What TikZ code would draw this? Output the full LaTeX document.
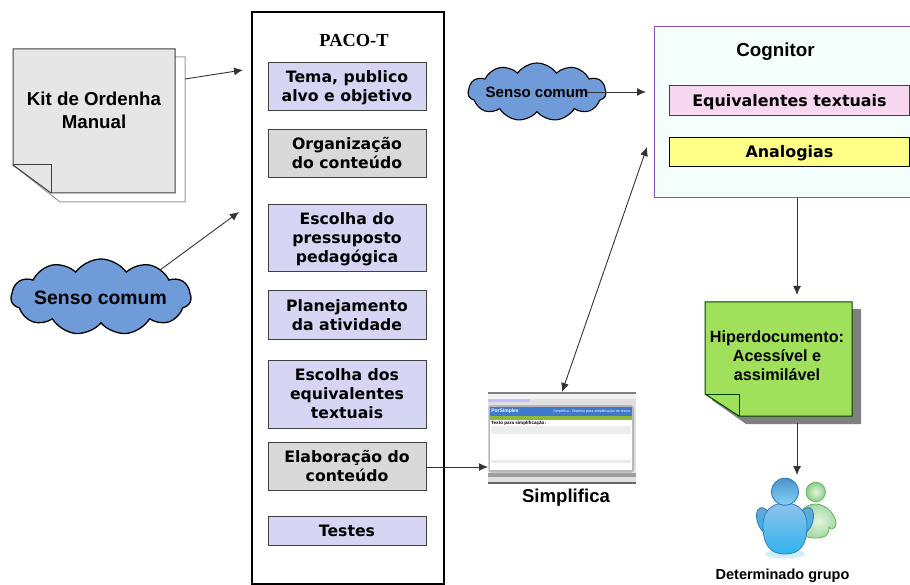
\documentclass[tikz,border=0pt]{standalone}
\usepackage{fontspec}
\setmainfont{Liberation Sans}
\newfontfamily\dv{DejaVu Sans}
\newfontfamily\ser{Liberation Serif}
\usetikzlibrary{shapes.symbols,arrows.meta,calc}
\definecolor{lav}{HTML}{D6D6F4}
\definecolor{gr}{HTML}{D9D9D9}
\definecolor{cloudb}{HTML}{6F9BD8}
\definecolor{docg}{HTML}{E6E6E6}
\definecolor{green1}{HTML}{A0E05A}
\definecolor{cogn}{HTML}{F4FFFB}
\definecolor{purp}{HTML}{8A50B8}
\definecolor{pink}{HTML}{F8D8F0}
\definecolor{yel}{HTML}{FFFF88}
\definecolor{uA}{HTML}{8FC3EA}
\definecolor{uB}{HTML}{2FB4EE}
\definecolor{uE}{HTML}{2F7FC0}
\definecolor{gA}{HTML}{E4F5DC}
\definecolor{gE}{HTML}{5DB85A}
\definecolor{sblue}{HTML}{3F78CC}
\definecolor{sgreen}{HTML}{8DB83A}
\tikzset{
 x=1pt,y=-1pt,
 conn/.style={-{Latex[length=9pt,width=8pt]},line width=0.9pt,draw=black!80},
 conn2/.style={{Latex[length=9pt,width=8pt]}-{Latex[length=9pt,width=8pt]},line width=0.9pt,draw=black!80},
 stepbox/.style={draw=black!75,line width=0.9pt,minimum width=158pt,align=center,inner sep=0pt,text depth=0pt,font=\dv\bfseries\fontsize{15.7}{19}\selectfont},
 barbox/.style={line width=0.9pt,minimum width=240pt,inner sep=0pt,anchor=north west,text depth=0pt,font=\dv\bfseries\fontsize{15.9}{18}\selectfont},
 puff/.style={cloud,cloud puffs=11,cloud puff arc=110,aspect=3.2,draw=black,line width=1.3pt,fill=cloudb,inner sep=0pt,align=center},
}
\newcommand{\stepat}[5]{\node[stepbox,fill=#4,minimum height=#3pt] (#1) at (347,#2) {#5};}
\begin{document}
\begin{tikzpicture}
\useasboundingbox (0,0) rectangle (910,585);
% Kit document
\draw[black!40,line width=1pt] (175,57) -- (185,57) -- (185,202) -- (60,202) -- (13,165);
\draw[black!75,fill=docg,line width=1pt] (13,49) -- (175,49) -- (175,193) -- (51,193) -- (13,165) -- cycle;
\draw[black!75,line width=1pt] (13,165) -- (51,165) -- (51,193);
\node[align=center,font=\bfseries\fontsize{18.7}{23}\selectfont] (kit) at (94,110) {Kit de Ordenha\\Manual};
\coordinate (kitout) at (185,79);
\coordinate (kitin) at (243,70);
\draw[conn] (kitout) -- (kitin);
% Cloud left
\node[puff,minimum width=180pt,minimum height=76pt] (c1) at (101,297) {};
\node[font=\bfseries\fontsize{19.4}{22}\selectfont] (c1t) at (100.5,298) {Senso comum};
\coordinate (c1out) at (160,270);
\coordinate (c1in) at (239,212);
\draw[conn] (c1out) -- (c1in);
% PACO-T panel
\node[draw=black,line width=1.6pt,minimum width=192pt,minimum height=572pt,inner sep=0pt] (panel) at (348,298) {};
\node[font=\ser\bfseries\fontsize{18.4}{20}\selectfont] (paco) at (354,41) {PACO-T};
\stepat{s1}{86}{48}{lav}{Tema, publico\\alvo e objetivo}
\stepat{s2}{153}{48}{gr}{Organização\\do conteúdo}
\stepat{s3}{237.5}{67}{lav}{Escolha do\\pressuposto\\pedagógica}
\stepat{s4}{315}{49}{lav}{Planejamento\\da atividade}
\stepat{s5}{394}{68}{lav}{Escolha dos\\equivalentes\\textuais}
\stepat{s6}{466}{48}{gr}{Elaboração do\\conteúdo}
\stepat{s7}{531}{29}{lav}{Testes}
% Cognitor
\node[draw=purp,fill=cogn,line width=0.9pt,minimum width=262pt,minimum height=171pt,inner sep=0pt,anchor=north west] (cog) at (654,26) {};
\node[font=\bfseries\fontsize{18.8}{20}\selectfont] (cogt) at (775.5,52) {Cognitor};
\node[barbox,draw=black!75,fill=pink,minimum height=30pt] (eq) at (669,85) {Equivalentes textuais};
\node[barbox,draw=black,fill=yel,minimum height=29pt] (an) at (669,137) {Analogias};
% Cloud top
\node[puff,minimum width=138pt,minimum height=58pt,line width=1.1pt] (c2) at (537,92) {};
\node[font=\bfseries\fontsize{15}{18}\selectfont] (c2t) at (537,92) {Senso comum};
\coordinate (c2out) at (587,92);
\coordinate (cogin) at (646,92);
\draw[conn] (c2out) -- (cogin);
% Screenshot
\fill[black!12] (488,392) rectangle (636,484);
\fill[black!50] (488,392) rectangle (636,394);
\fill[black!5] (488,394) rectangle (636,399);
\fill[blue!25] (488,399) rectangle (530,402);
\fill[black!28,rounded corners=3pt] (488.5,405) rectangle (634,472.5);
\fill[white] (490,407) rectangle (632,470);
\fill[sblue] (490,407) rectangle (632,415.5);
\fill[sgreen] (490,416) rectangle (632,419.5);
\fill[black!7] (491,425.5) rectangle (631,434);
\fill[black!8] (491,460) rectangle (631,463);
\fill[black!38] (488,473) rectangle (636,477);
\fill[black!60] (488,481.5) rectangle (636,484);
\node[font=\bfseries\fontsize{5}{5}\selectfont,white,inner sep=0pt] (ps) at (505,411.5) {PorSimples};
\node[font=\fontsize{3.6}{4}\selectfont,white,inner sep=0pt] (ps2) at (592,411.5) {Simplifica - Sistema para simplificação de textos};
\node[font=\bfseries\fontsize{4.6}{5}\selectfont,black,inner sep=0pt,anchor=west] (ps3) at (491,423) {Texto para simplificação:};
\coordinate (simp) at (488,467);
\draw[conn] (s6.east) ++(0,1) -- (simp);
\node[font=\bfseries\fontsize{18.6}{20}\selectfont] (simpt) at (566,498) {Simplifica};
\coordinate (simpa) at (562,392);
\coordinate (coga) at (647,147);
\draw[conn2] (simpa) -- (coga);
% Hiperdocumento
\fill[black!50] (712,309) -- (861,309) -- (861,424) -- (746,424) -- (712,400) -- cycle;
\draw[black!75!green,fill=green1,line width=1pt] (705,302) -- (852,302) -- (852,416) -- (739,416) -- (705,394) -- cycle;
\draw[black!75!green,line width=1pt] (705,394) -- (739,394) -- (739,416);
\node[align=center,font=\bfseries\fontsize{16.2}{19}\selectfont] (hip) at (777,356) {Hiperdocumento:\\Acessível e\\assimilável};
\coordinate (cogb) at (797,197);
\draw[conn] (cog.south -| cogb) -- (797,295);
\coordinate (hipb) at (797,423);
\coordinate (grp) at (797,475);
\draw[conn] (hipb) -- (grp);
% Users: green, behind
\draw[gE,line width=.8pt,inner color=gA,outer color=gE!55] (815.5,504) .. controls (827,504) and (836,516) .. (836,523) .. controls (836,530) and (830,530) .. (829,527) .. controls (829,535) and (826,538) .. (815,538) .. controls (806,538) and (801,535) .. (801,530) -- (801,512) .. controls (804,507) and (809,504) .. (815.5,504) -- cycle;
\draw[gE,line width=.8pt,inner color=gA,outer color=gE!70] (815.7,492) circle (9.7);
% Users: blue
\fill[uB,opacity=.22] (785,554) ellipse (20 and 4.5);
\draw[uE,line width=.8pt,top color=uE!70,bottom color=uB,rotate around={20:(765,521)}] (765,521) ellipse (7.5 and 14);
\draw[uE,line width=.8pt,top color=uE!70,bottom color=uB,rotate around={-20:(805,521)}] (805,521) ellipse (7.5 and 14);
\draw[uE,line width=.8pt,top color=uA,bottom color=uB] (785,503) .. controls (797,503) and (807,510) .. (807,525) .. controls (807,545) and (800,554) .. (785,554) .. controls (770,554) and (763,545) .. (763,525) .. controls (763,510) and (773,503) .. (785,503) -- cycle;
\draw[uE,line width=.9pt,top color=uE!85,bottom color=uB!60!white] (785,491.7) circle (13.5);
\node[font=\bfseries\fontsize{14.5}{15}\selectfont] (grpt) at (782.5,576) {Determinado grupo};
\end{tikzpicture}
\end{document}
